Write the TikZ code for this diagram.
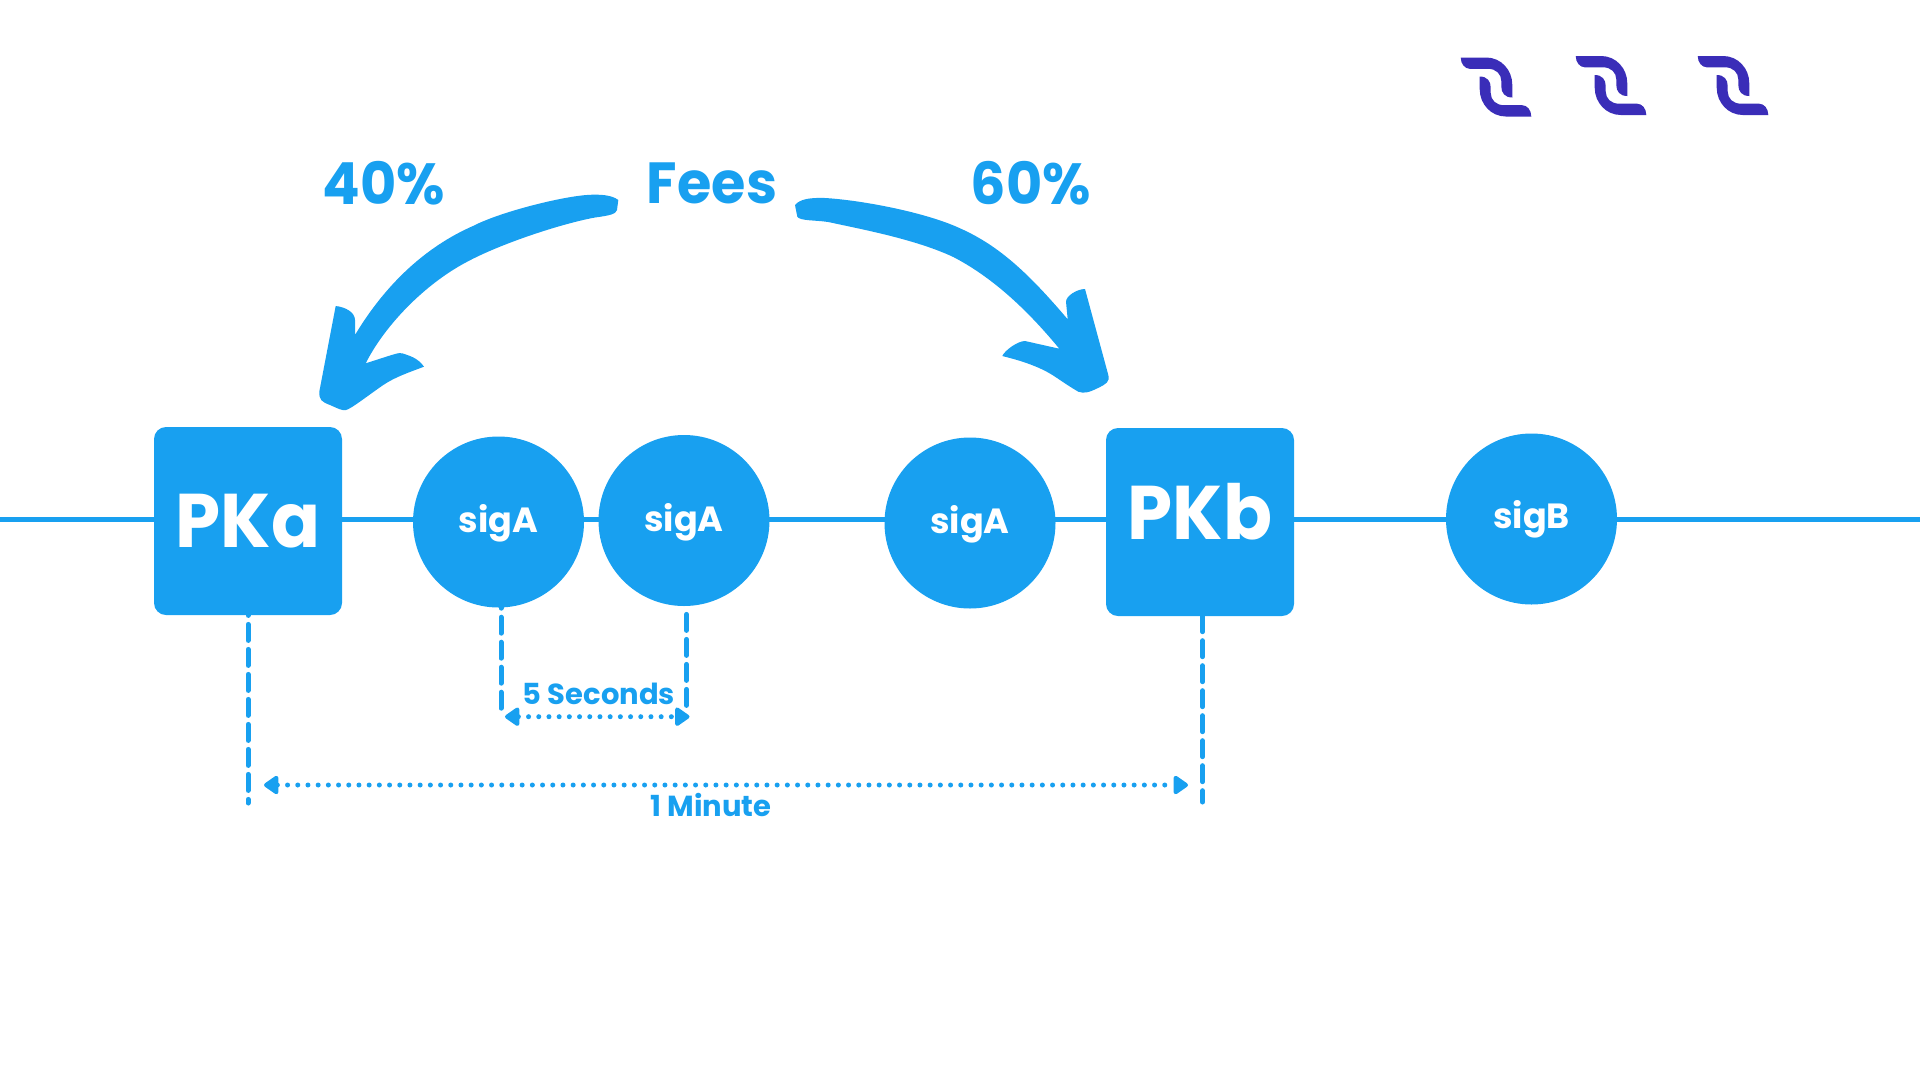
\documentclass[tikz,border=0pt]{standalone}
\usepackage{fontspec}
\setmainfont{Poppins}
\newfontfamily\blockfont[FakeStretch=.95]{Poppins}
\newfontfamily\labelfont[FakeStretch=.96]{Poppins}
\usetikzlibrary{arrows.meta}
\definecolor{feeblue}{HTML}{18A0F0}
\definecolor{markpurple}{HTML}{3A2DB8}
\tikzset{
	blocknode/.style={fill=feeblue, text=white, rounded corners=12pt, minimum size=188pt, inner sep=0pt, text height=52.5pt, text depth=0pt, font=\blockfont\fontsize{76}{76}\selectfont\bfseries},
	signode/.style={circle, fill=feeblue, text=white, minimum size=171pt, inner sep=0pt, text height=21pt, text depth=0pt, font=\fontsize{35}{35}\selectfont\bfseries},
	biglabel/.style={text=feeblue, inner sep=0pt, font=\labelfont\fontsize{58}{58}\selectfont\bfseries},
	smalllabel/.style={text=feeblue, inner sep=0pt, font=\fontsize{29}{29}\selectfont\bfseries},
	rail/.style={draw=feeblue, line width=5pt},
	tick/.style={draw=feeblue, line width=5pt, line cap=round, dash pattern=on 16pt off 9pt},
	span/.style={draw=feeblue, line width=5pt, line cap=round, dash pattern=on 0pt off 10.2pt, {Triangle[length=16pt,width=21pt,round]}-{Triangle[length=16pt,width=21pt,round]}},
	logomark/.pic={
		\fill[markpurple] (-35.3,-29.5) -- (-9.7,-29.5) .. controls (5,-29.5) and (16.3,-17) .. (16.3,-2.2) -- (16.3,10.5) .. controls (9,10.5) and (5.3,6) .. (5.3,-0.5) -- (5.3,-6) .. controls (5.3,-13) and (0,-18.2) .. (-8,-18.2) -- (-26.3,-18.2) .. controls (-31,-18.2) and (-35.3,-23) .. cycle;
		\fill[markpurple, rotate=180] (-35.3,-29.5) -- (-9.7,-29.5) .. controls (5,-29.5) and (16.3,-17) .. (16.3,-2.2) -- (16.3,10.5) .. controls (9,10.5) and (5.3,6) .. (5.3,-0.5) -- (5.3,-6) .. controls (5.3,-13) and (0,-18.2) .. (-8,-18.2) -- (-26.3,-18.2) .. controls (-31,-18.2) and (-35.3,-23) .. cycle;
	}
}
\begin{document}
\begin{tikzpicture}[x=1pt, y=-1pt]
	\useasboundingbox (0,0) rectangle (1920,1080);

	\coordinate	(railw)	at (0,519);
	\coordinate	(raile)	at (1920,519);
	\path[rail] (railw) -- (raile);

	\node[blocknode]	(pka)	at (248,521)	{PKa};
	\node[signode]		(sa1)	at (498.5,522)	{sigA};
	\node[signode]		(sa2)	at (684,520.5)	{sigA};
	\node[signode]		(sa3)	at (970,523)	{sigA};
	\node[blocknode, text height=34pt]	(pkb)	at (1200,522)	{PKb};
	\node[signode, text height=19.6pt]	(sb1)	at (1531.5,519)	{sigB};

	\node[biglabel]		(fee)	at (712,183)	{Fees};
	\node[biglabel]		(pc40)	at (384,183)	{40\%};
	\node[biglabel]		(pc60)	at (1031,183)	{60\%};
	\node[smalllabel]	(five)	at (599,694)	{5 Seconds};
	\node[smalllabel]	(mins)	at (711,805)	{1 Minute};

	\coordinate	(dpka)	at (248,803);
	\coordinate	(dsa1)	at (501,709);
	\coordinate	(dsa2)	at (686.5,706);
	\coordinate	(dpkb)	at (1202.5,802);
	\coordinate	(fivew)	at (505,716.7);
	\coordinate	(fivee)	at (689.5,716.7);
	\coordinate	(minsw)	at (264,785);
	\coordinate	(minse)	at (1188,785);

	\path[tick]
			(pka.south)			edge[dash phase=15.8pt]	(dpka)
			(dsa1 |- sa1.south)	edge[dash phase=15.5pt]	(dsa1)
			(dsa2 |- sa2.south)	edge[dash phase=16.8pt]	(dsa2)
			(dpkb |- pkb.south)	edge[dash phase=0.5pt]	(dpkb)
			;
	\draw[span] (fivew) -- (fivee);
	\draw[span] (minsw) -- (minse);

	\fill[feeblue] (618.3,200) .. controls (612,195) and (600,194) .. (586.7,195)
		.. controls (560,197) and (500,212) .. (473,226)
		.. controls (425,247) and (385,285) .. (355,335)
		-- (355,320) .. controls (355,312) and (345,307) .. (335.7,306)
		-- (319.3,391.7) .. controls (319,400) and (322,402) .. (330,405)
		.. controls (337,408) and (342,411) .. (346,410)
		.. controls (351,409) and (370,394) .. (383.3,385)
		.. controls (395,377) and (410,372) .. (424,366.7)
		.. controls (418,358) and (410,356) .. (403,353.5)
		.. controls (399,352) and (395,354) .. (365.7,363.3)
		.. controls (385,325) and (425,284) .. (466.7,262)
		.. controls (500,244) and (560,224) .. (595,217.5)
		.. controls (610,215.5) and (616,214) .. (617,210) -- cycle;
	\fill[feeblue] (795,205) .. controls (800,199) and (810,197.5) .. (825,198)
		.. controls (860,200) and (925,212) .. (960,228.3)
		.. controls (1000,246) and (1030,275) .. (1067.7,319.3)
		-- (1066,301.7) .. controls (1066,296) and (1077,289) .. (1085,289)
		-- (1108.3,375) .. controls (1110,382) and (1106,384) .. (1098,388)
		.. controls (1090,392) and (1084,394) .. (1078.3,391.7)
		.. controls (1065,384) and (1055,376) .. (1046.7,371.7)
		.. controls (1032,364) and (1018,360) .. (1002.3,356)
		.. controls (1005,350) and (1018,341) .. (1025,341)
		-- (1059.3,348.7)
		.. controls (1025,307) and (990,276) .. (953.3,257)
		.. controls (915,239) and (860,229) .. (828.3,222)
		.. controls (815,220) and (800,221) .. (797.3,216.7) -- cycle;

	\pic (logoa) at (1496,87) {logomark};
	\pic (logob) at (1611,85.5) {logomark};
	\pic (logoc) at (1733,85.5) {logomark};
\end{tikzpicture}
\end{document}
